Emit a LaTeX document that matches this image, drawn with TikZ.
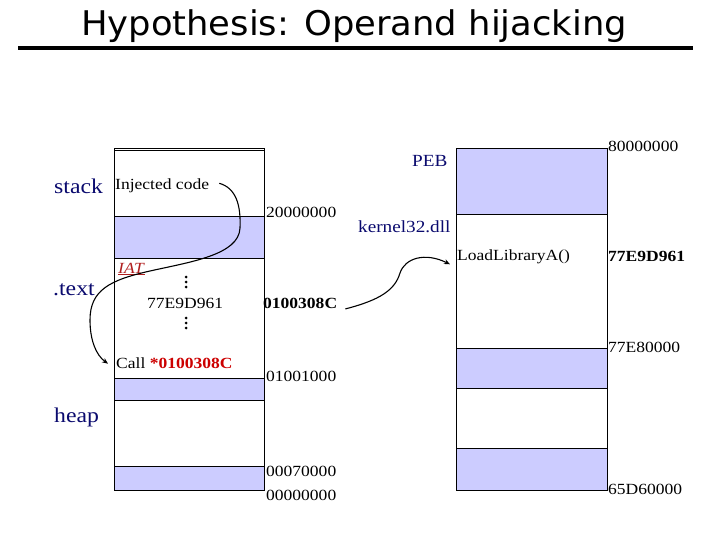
\documentclass[tikz,border=0pt]{standalone}
\usepackage{fontspec}
\setmainfont{Liberation Serif}[FakeStretch=1.13]
\newfontfamily\titlefont{DejaVu Sans}[FakeStretch=1.04]
\usetikzlibrary{arrows.meta}
\definecolor{bandblue}{RGB}{204,204,255}
\definecolor{navy}{RGB}{10,10,110}
\definecolor{iatred}{RGB}{176,30,30}
\definecolor{callred}{RGB}{204,0,0}
\tikzset{
  txt/.style={anchor=base west, inner sep=0pt, font=\fontsize{15.5}{18}\selectfont},
  bigl/.style={anchor=base west, inner sep=0pt, text=navy, font=\fontsize{21}{24}\selectfont},
  midl/.style={anchor=base west, inner sep=0pt, text=navy, font=\fontsize{17}{20}\selectfont},
  band/.style={fill=bandblue, draw=black, line width=0.9pt},
  mem/.style={draw=black, line width=0.9pt},
  link/.style={line width=1.1pt, -{Stealth[length=6pt,width=5pt]}},
  dotm/.style={fill=black}
}
\begin{document}
\begin{tikzpicture}[x=1pt,y=-1pt]
\useasboundingbox (0,0) rectangle (720,540);
% title
\node[anchor=base, inner sep=0pt, font=\titlefont\fontsize{34}{40}\selectfont] (title) at (354,36) {Hypothesis: Operand hijacking};
\draw[line width=3.5pt] (18,48) -- (693,48);

% left memory column
\draw[mem] (114,148) rectangle (264,490);
\draw[mem] (114,150.5) -- (264,150.5);
\draw[band] (114,216) rectangle (264,258);
\draw[band] (114,378) rectangle (264,400);
\draw[band] (114,466) rectangle (264,490);

% right memory column
\draw[mem] (456,148) rectangle (607,490);
\draw[band] (456,148) rectangle (607,214);
\draw[band] (456,348) rectangle (607,388);
\draw[band] (456,448) rectangle (607,490);

% left labels
\node[bigl] (stack) at (54,194) {stack};
\node[bigl] (text) at (53,295) {.text};
\node[bigl] (heap) at (54,422) {heap};

\node[txt] (inj) at (115,190) {Injected code};
\node[txt] (a2) at (266,218) {20000000};
\node[txt, text=iatred] (iat) at (118,273) {\underline{\textit{IAT}}};
\node[txt] (iatv) at (147,308) {77E9D961};
\node[txt] (iataddr) at (263,308) {\textbf{0100308C}};
\node[txt] (call) at (116,368) {Call \textcolor{callred}{\textbf{*0100308C}}};
\node[txt] (a3) at (266,381) {01001000};
\node[txt] (a4) at (266,476) {00070000};
\node[txt] (a5) at (266,500) {00000000};

% dots
\foreach \yy in {277,282,287,318,323,328}
  \fill[dotm] (186,\yy) circle (1.5);

% right labels
\node[midl] (peb) at (412,167) {PEB};
\node[midl] (k32) at (358,233) {kernel32.dll};
\node[txt] (b1) at (608,152) {80000000};
\node[txt] (ll) at (457,260) {LoadLibraryA()};
\node[txt] (b2) at (608,261) {\textbf{77E9D961}};
\node[txt] (b3) at (608,352) {77E80000};
\node[txt] (b4) at (608,494) {65D60000};

% connectors
\coordinate (injS) at ([xshift=10pt,yshift=3pt]inj.east);
\coordinate (callT) at ([xshift=-8pt,yshift=-1pt]call.west);
\draw[link] (injS) .. controls (236,188) and (241,205) .. (240,228)
  .. controls (239,255) and (190,262) .. (150,271)
  .. controls (110,280) and (90,290) .. (90,320)
  .. controls (90,340) and (96,355) .. (callT);

\coordinate (addrS) at ([xshift=8pt,yshift=-6pt]iataddr.east);
\coordinate (llT) at ([xshift=-7pt,yshift=-8pt]ll.west);
\draw[link] (addrS) .. controls (380,300) and (395,290) .. (400,273)
  .. controls (405,258) and (425,252) .. (llT);
\end{tikzpicture}
\end{document}
